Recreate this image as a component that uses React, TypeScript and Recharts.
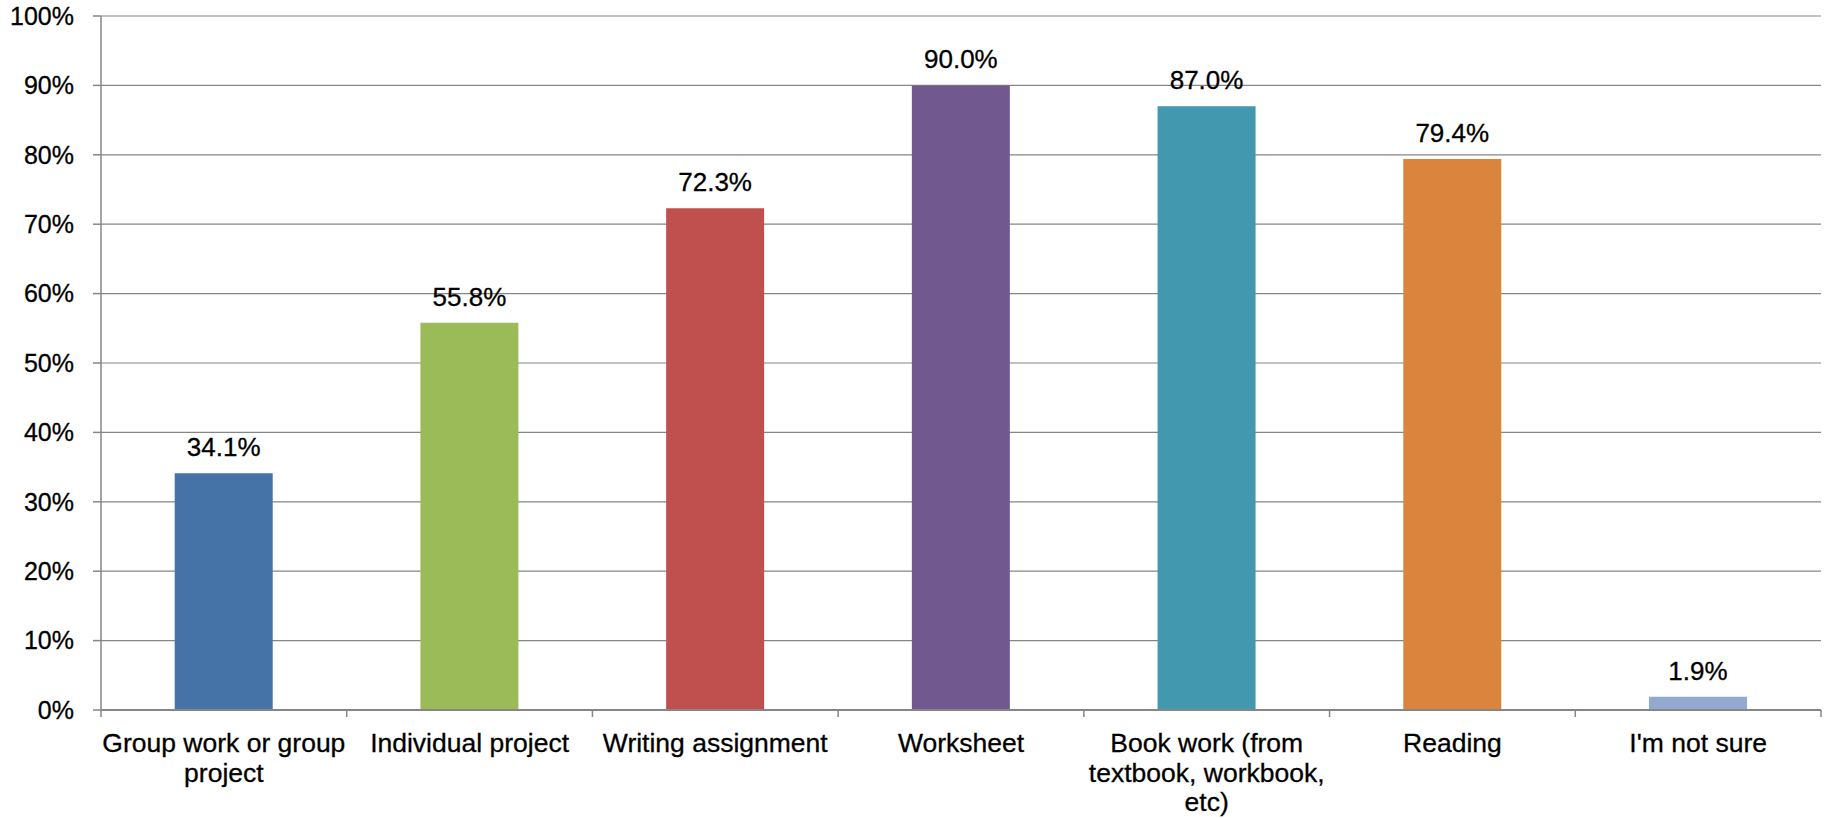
import { Bar, BarChart, CartesianGrid, Cell, LabelList, XAxis, YAxis } from "recharts"

// survey answers, share of respondents (%)
const CATEGORIES = [
  "Group work or group project",
  "Individual project",
  "Writing assignment",
  "Worksheet",
  "Book work (from textbook, workbook, etc)",
  "Reading",
  "I'm not sure",
]
const VALUES = [34.1, 55.8, 72.3, 90.0, 87.0, 79.4, 1.9]
const Y_TICKS = [0, 10, 20, 30, 40, 50, 60, 70, 80, 90, 100]

const COLORS = ["#4572A7", "#9BBB59", "#C0504D", "#71588F", "#4198AF", "#DB843D", "#93A9CF"]

const FONT = '"Liberation Sans", Arial, Helvetica, sans-serif'
const AXIS_GRAY = "#868686"
const LABEL_SIZE = 26.5

const data = CATEGORIES.map((name, i) => ({ name, value: VALUES[i] }))

let ctx: CanvasRenderingContext2D | null = null
function measure(s: string) {
  if (!ctx) {
    ctx = document.createElement("canvas").getContext("2d")
    if (ctx) ctx.font = `${LABEL_SIZE}px ${FONT}`
  }
  return ctx ? ctx.measureText(s).width : s.length * LABEL_SIZE * 0.5
}

// greedy word wrap to the band width
function wrap(label: string, maxWidth: number) {
  const lines: string[] = []
  let cur = ""
  for (const w of label.split(" ")) {
    const next = cur ? `${cur} ${w}` : w
    if (cur && measure(next) > maxWidth) {
      lines.push(cur)
      cur = w
    } else {
      cur = next
    }
  }
  if (cur) lines.push(cur)
  return lines
}

function CategoryTick(props: any) {
  const { x, y, payload, index, visibleTicksCount } = props
  const count = visibleTicksCount || CATEGORIES.length
  const band = (props.width || 1720) / count
  const lines = wrap(String(payload.value), 250)
  const left = x - band / 2
  return (
    <g>
      {/* tick marks sit on the band edges, like Excel */}
      <line x1={left} x2={left} y1={y} y2={y + 7} stroke={AXIS_GRAY} strokeWidth={1.5} />
      {index === count - 1 && (
        <line x1={left + band} x2={left + band} y1={y} y2={y + 7} stroke={AXIS_GRAY} strokeWidth={1.5} />
      )}
      <text
        x={x}
        y={y}
        textAnchor="middle"
        fill="#000"
        stroke="#000"
        strokeWidth={0.3}
        style={{ fontSize: LABEL_SIZE, fontFamily: FONT }}
      >
        {lines.map((l, i) => (
          <tspan key={i} x={x} y={y + 42 + i * 29.5}>
            {l}
          </tspan>
        ))}
      </text>
    </g>
  )
}

export default function App() {
  return (
    <div style={{ position: "absolute", left: 0, top: 0, background: "#fff" }}>
      <BarChart
        width={1837}
        height={818}
        data={data}
        barCategoryGap="30%"
        margin={{ top: 16, right: 16, bottom: 8, left: 0 }}
      >
        <CartesianGrid vertical={false} stroke={AXIS_GRAY} strokeWidth={1.2} />
        <XAxis
          dataKey="name"
          interval={0}
          tickLine={false}
          tickSize={0}
          tickMargin={0}
          axisLine={{ stroke: AXIS_GRAY, strokeWidth: 2 }}
          tick={<CategoryTick />}
          height={100}
        />
        <YAxis
          domain={[0, 100]}
          ticks={Y_TICKS}
          tickFormatter={(v: number) => `${v}%`}
          width={101}
          tickSize={8}
          tickMargin={19}
          axisLine={{ stroke: AXIS_GRAY, strokeWidth: 1.5 }}
          tickLine={{ stroke: AXIS_GRAY, strokeWidth: 1.5 }}
          tick={{ fill: "#000", stroke: "#000", strokeWidth: 0.3, fontSize: 25, fontFamily: FONT }}
        />
        <Bar dataKey="value" isAnimationActive={false}>
          {data.map((_, i) => (
            <Cell key={i} fill={COLORS[i % COLORS.length]} />
          ))}
          <LabelList
            dataKey="value"
            position="top"
            offset={17}
            formatter={(v: any) => `${Number(v).toFixed(1)}%`}
            style={{ fill: "#000", stroke: "#000", strokeWidth: 0.3, fontSize: 26, fontFamily: FONT }}
          />
        </Bar>
      </BarChart>
    </div>
  )
}
